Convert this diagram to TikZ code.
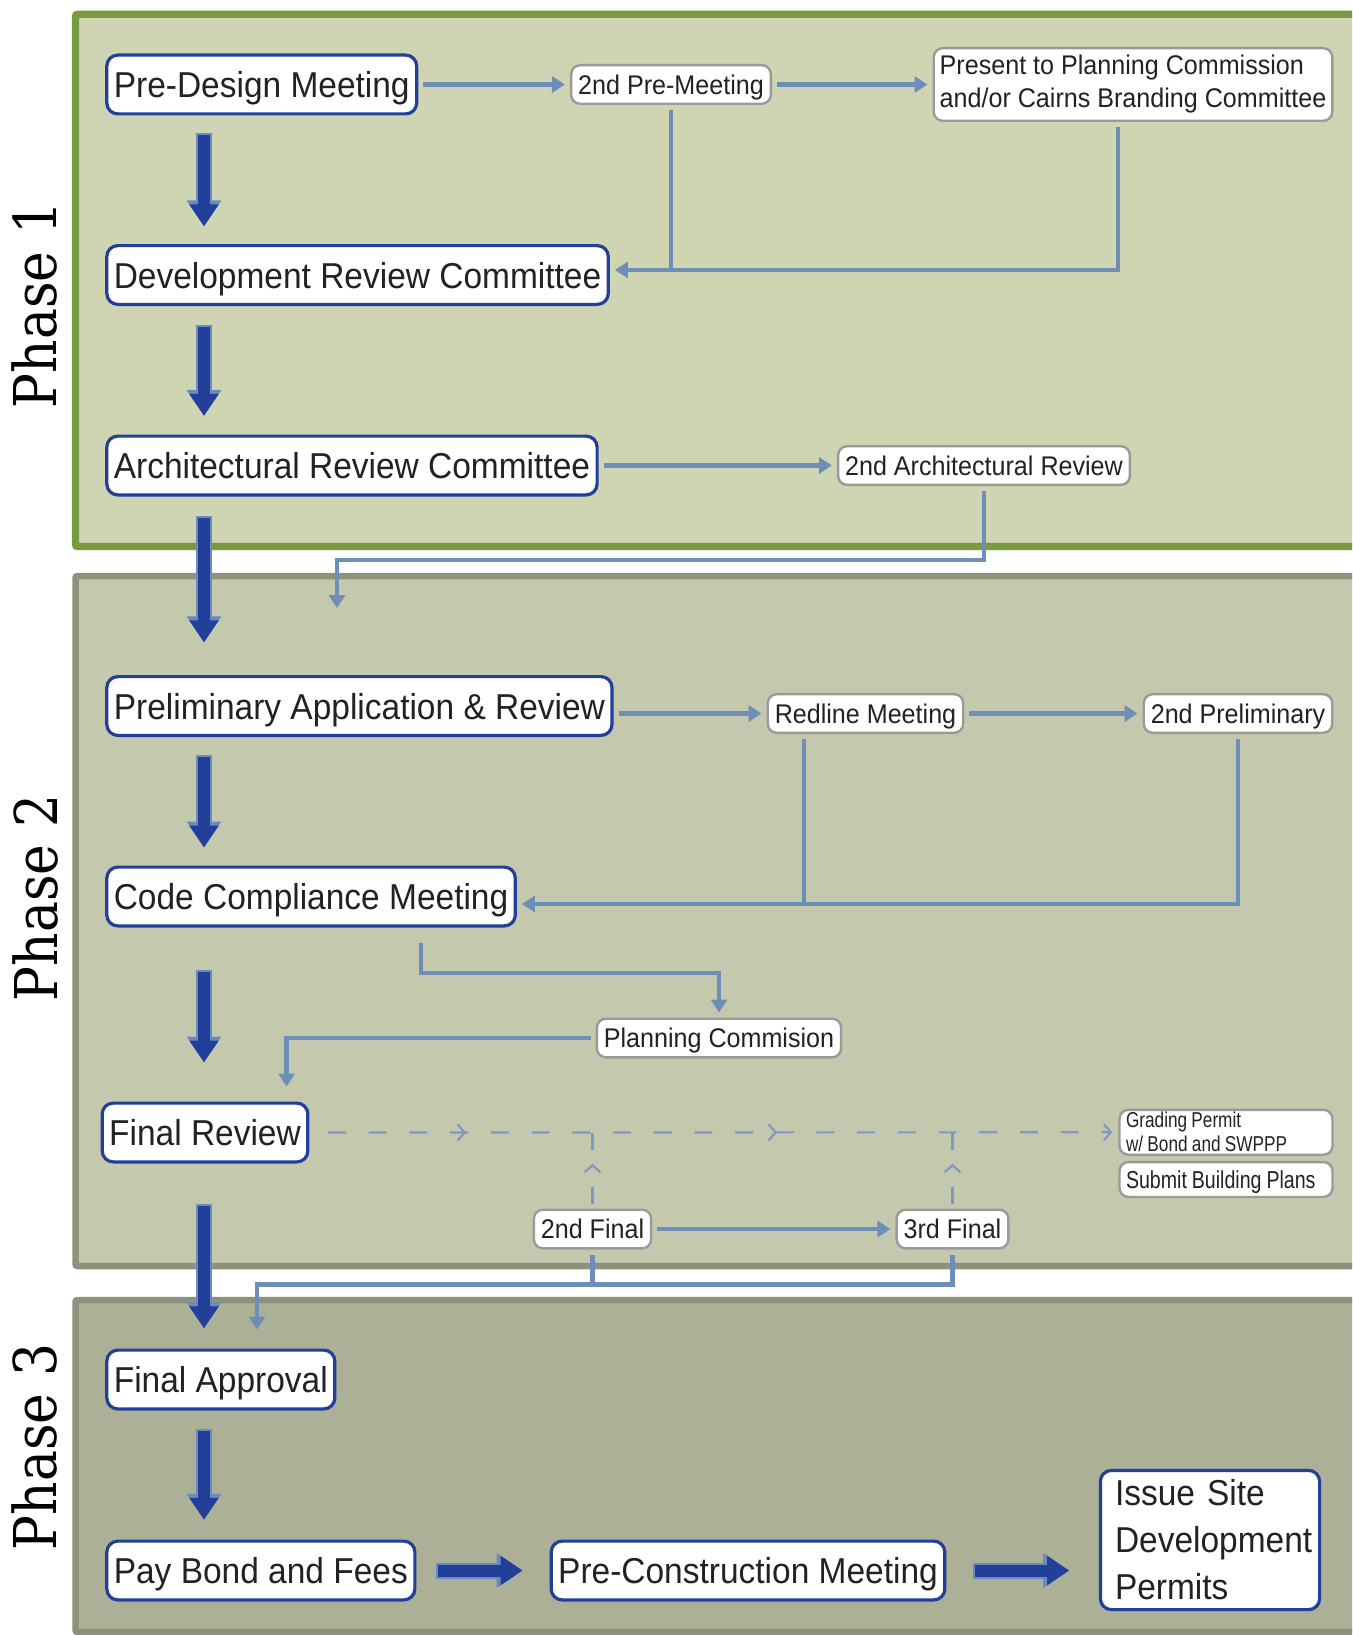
\documentclass[tikz,border=0pt]{standalone}
\usepackage{fontspec}
\usepackage{xcolor}
\usetikzlibrary{arrows.meta}
\usetikzlibrary{decorations.markings}
\newfontfamily\boxfont[FakeStretch=0.93]{Liberation Sans}
\newfontfamily\narrowfont[FakeStretch=0.8]{Liberation Sans}
\newfontfamily\phasefont[FakeStretch=0.88]{DejaVu Serif}
\newcommand{\tightgap}{\spaceskip=0.2em\relax}

\definecolor{phaseonefill}{HTML}{CFD4B3}
\definecolor{phaseoneline}{HTML}{7A9A3F}
\definecolor{phasetwofill}{HTML}{C4C9AD}
\definecolor{phasetwoline}{HTML}{8E927C}
\definecolor{phasethreefill}{HTML}{ABB096}
\definecolor{boxblue}{HTML}{22409A}
\definecolor{edgeblue}{HTML}{6A8BC0}
\definecolor{linkblue}{HTML}{6E8EB8}
\definecolor{dashblue}{HTML}{7E9AC4}
\definecolor{boxgrey}{HTML}{9A9A9A}
\definecolor{textdark}{HTML}{222222}

\tikzset{
  mainbox/.style={draw=boxblue, line width=3.2pt, rounded corners=11pt, fill=white, text=textdark,
    inner xsep=7pt, inner ysep=0pt, minimum height=58.8pt, text height=26pt, text depth=0pt,
    font=\boxfont\fontsize{36}{40}\selectfont},
  sidebox/.style={draw=boxgrey, line width=2.4pt, rounded corners=9pt, fill=white, text=textdark,
    inner xsep=7pt, inner ysep=0pt, minimum height=38.6pt, text height=19.5pt, text depth=0pt,
    font=\boxfont\fontsize{27}{30}\selectfont},
  sidenote/.style={sidebox, text height={}, text depth={}, align=left, inner xsep=6pt},
  phaselabel/.style={rotate=90, anchor=base, inner sep=0pt, text=black,
    font=\phasefont\fontsize{59}{66}\selectfont},
  bigarrow/.style={draw=boxblue, line width=12pt, -{Triangle[width=28pt,length=22pt]},
    preaction={draw=edgeblue, line width=16pt, shorten <=-2pt, -{Triangle[width=33pt,length=26pt]}}},
  link/.style={draw=linkblue, line width=4.5pt, shorten <=5pt, shorten >=5pt,
    -{Triangle[width=16pt,length=13pt]}},
  linkline/.style={draw=linkblue, line width=4.5pt, shorten <=5pt},
  chev/.tip={Straight Barb[length=7pt,width=16pt]},
  dashlink/.style={draw=dashblue, line width=2.2pt, dash pattern=on 18pt off 22.7pt, dash phase=22.1pt},
  dashrise/.style={draw=dashblue, line width=2.2pt, dash pattern=on 17pt off 37pt}
}

\begin{document}
\begin{tikzpicture}[x=1pt,y=-1pt]
\useasboundingbox (0,0) rectangle (1352,1635);
\clip (0,0) rectangle (1352,1635);
\fill[white] (0,0) rectangle (1352,1635);
% phase frames
\draw[line width=7.2pt, draw=phaseoneline, fill=phaseonefill, rounded corners=2pt] (75.5,14.3) rectangle (1400,546.5);
\draw[line width=6.5pt, draw=phasetwoline, fill=phasetwofill, rounded corners=2pt] (75.5,576) rectangle (1400,1266);
\draw[line width=6.5pt, draw=phasetwoline, fill=phasethreefill, rounded corners=2pt] (75.5,1300) rectangle (1400,1632);
\node[phaselabel] (phaseone) at (56,305) {Phase 1};
\node[phaselabel] (phasetwo) at (57,898) {Phase 2};
\node[phaselabel] (phasethree) at (56,1447) {Phase 3};

% main steps
\node[mainbox, anchor=west] (predesign) at (105.2,84.5) {Pre-Design Meeting};
\node[mainbox, anchor=west] (drc) at (105.2,275) {Development Review Committee};
\node[mainbox, anchor=west] (arc) at (105.2,465.5) {Architectural Review Committee};
\node[mainbox, anchor=west] (prelim) at (105.2,706) {Preliminary Application \& Review};
\node[mainbox, anchor=west] (ccm) at (105.2,896.5) {Code Compliance Meeting};
\node[mainbox, anchor=west] (finalrev) at (100.6,1132.5) {Final Review};
\node[mainbox, anchor=west] (finalapp) at (105.2,1379.5) {Final Approval};
\node[mainbox, anchor=west] (paybond) at (105.2,1570.5) {Pay Bond and Fees};
\node[mainbox, anchor=west] (precon) at (549.6,1570.5) {Pre-Construction Meeting};
\node[mainbox, text height={}, text depth={}, align=left, text width=190pt, inner xsep=14.6pt,
  minimum height=139.2pt, font=\boxfont\fontsize{36}{47}\selectfont] (issue) at (1210,1540) {Issue Site\\Development\\Permits};

% side steps
\node[sidebox] (premeet2) at (671,84.5) {2nd Pre-Meeting};
\node[sidenote, minimum height=72.6pt, font=\boxfont\fontsize{27}{33}\selectfont] (present) at (1133,84.5) {Present to Planning Commission\\and/or Cairns Branding Committee};
\node[sidebox] (arc2) at (984,465.5) {2nd Architectural Review};
\node[sidebox] (redline) at (865.5,713.5) {Redline Meeting};
\node[sidebox] (prelim2) at (1238,713.5) {2nd Preliminary};
\node[sidebox] (plancom) at (719,1038) {Planning Commision};
\node[sidebox] (final2) at (592.5,1229) {2nd Final};
\node[sidebox] (final3) at (952.5,1229) {3rd Final};
\node[sidenote, text width=200pt, inner xsep=6.5pt, minimum height=45pt,
  font=\narrowfont\fontsize{21.5}{24}\selectfont] (grading) at (1226,1132.3) {\tightgap Grading Permit\\w/ Bond and SWPPP};
\node[sidebox, text width=200pt, align=left, inner xsep=6.5pt, minimum height=34.9pt, text height=17.6pt,
  font=\narrowfont\fontsize{24.5}{27}\selectfont] (submit) at (1226,1179.5) {\tightgap Submit Building Plans};

% main flow
\coordinate (spine) at (204,0);
\draw[bigarrow] ([yshift=-20pt]spine |- predesign.south) -- ([yshift=17.6pt]spine |- drc.north);
\draw[bigarrow] ([yshift=-20.6pt]spine |- drc.south) -- ([yshift=18.6pt]spine |- arc.north);
\draw[bigarrow] ([yshift=-21.6pt]spine |- arc.south) -- ([yshift=32.6pt]spine |- prelim.north);
\draw[bigarrow] ([yshift=-19.8pt]spine |- prelim.south) -- ([yshift=18pt]spine |- ccm.north);
\draw[bigarrow] ([yshift=-44.3pt]spine |- ccm.south) -- ([yshift=39pt]spine |- finalrev.north);
\draw[bigarrow] ([yshift=-42.6pt]spine |- finalrev.south) -- ([yshift=20.1pt]spine |- finalapp.north);
\draw[bigarrow] ([yshift=-20pt]spine |- finalapp.south) -- ([yshift=19.7pt]spine |- paybond.north);
\draw[bigarrow] ([xshift=21.6pt]paybond.east) -- ([xshift=-27pt]precon.west);
\draw[bigarrow] ([xshift=28.2pt]precon.east) -- ([xshift=-29.6pt]precon.east -| issue.west);

% phase 1 loops
\draw[link] (predesign.east) -- (premeet2.west);
\draw[link] (premeet2.east) -- (present.west);
\draw[linkline] (premeet2.south) -- ([yshift=5pt]premeet2.south |- drc.east);
\draw[link] ([xshift=-15pt]present.south) |- ([yshift=5pt]drc.east);
\draw[link] (arc.east) -- (arc2.west);
\coordinate (rejoin) at (337,613);
\draw[link] (arc2.south) -- ++(0,74.2) -| (rejoin);

% phase 2 loops
\draw[link] (prelim.east |- redline.west) -- (redline.west);
\draw[link] (redline) -- (prelim2);
\draw[linkline] ([xshift=-61.5pt]redline.south) -- ([xshift=-61.5pt,yshift=-7.5pt]redline.south |- ccm.east);
\draw[link] (prelim2.south) |- ([yshift=-7.5pt]ccm.east);
\draw[link] ([xshift=316pt,yshift=-10pt]ccm.south west) -- ++(0,35.6) -| (plancom.north);
\draw[link] (plancom.west) -| ([xshift=186pt,yshift=10pt]finalrev.north west);
\draw[link] (final2) -- (final3);
\draw[linkline] (final2.south) -- ++(0,35.2);
\draw[link] (final3.south) -- ++(0,35.2) -| ([xshift=151.8pt,yshift=14pt]finalapp.north west);

% permits
\draw[dashlink, -{chev}, shorten >=6pt, postaction={decorate}, decoration={markings,
  mark=at position 156.6pt with {\arrow{chev}}, mark=at position 467.6pt with {\arrow{chev}}}]
  (finalrev.east) -- (grading.west);
\draw[dashrise, postaction={decorate}, decoration={markings, mark=at position 39.7pt with {\arrow{chev}}}]
  ([yshift=5pt]final2.north) -- (final2.north |- finalrev.east);
\draw[dashrise, postaction={decorate}, decoration={markings, mark=at position 39.7pt with {\arrow{chev}}}]
  ([yshift=5pt]final3.north) -- (final3.north |- finalrev.east);
\end{tikzpicture}
\end{document}
